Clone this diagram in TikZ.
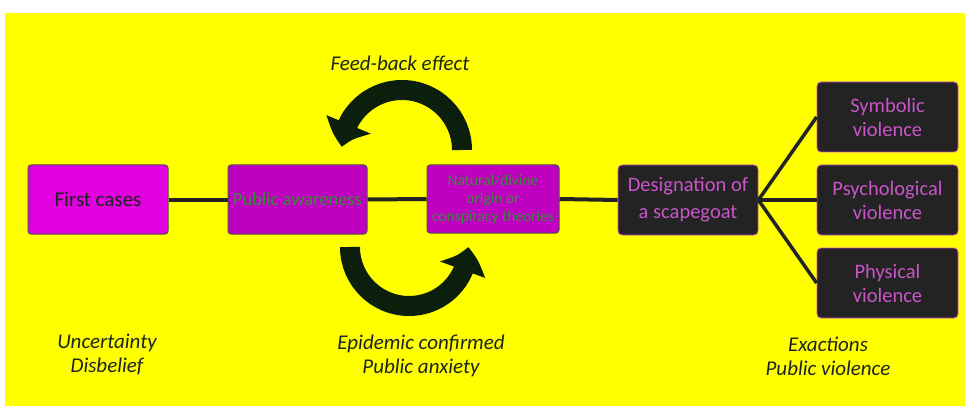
\documentclass[tikz,border=0pt]{standalone}
\usepackage{fontspec}
\setmainfont{Carlito}
\usetikzlibrary{arrows.meta,bending}
\definecolor{bgyellow}{HTML}{FFFF00}
\definecolor{magA}{HTML}{E000E0}
\definecolor{magB}{HTML}{C000C0}
\definecolor{darkbox}{HTML}{232323}
\definecolor{darktext}{HTML}{1C261C}
\definecolor{greentext}{HTML}{348E34}
\definecolor{pinktext}{HTML}{C955C9}
\definecolor{arrowcol}{HTML}{0C1E0C}
\tikzset{
  stagebox/.style={rectangle, rounded corners=3pt, draw=darkbox!80, line width=1pt, align=center, inner sep=2pt},
  firstbox/.style={stagebox, fill=magA, text=darktext, font=\fontsize{21}{24}\selectfont},
  midbox/.style={stagebox, fill=magB, text=greentext},
  darkstage/.style={rectangle, rounded corners=4pt, draw=magB!70, line width=0.8pt, fill=darkbox, text=pinktext, align=center, font=\fontsize{20.5}{27}\selectfont},
  violbox/.style={darkstage, minimum width=141pt, minimum height=70pt, font=\fontsize{20.5}{24}\selectfont},
  link/.style={draw=darkbox, line width=4pt},
  fan/.style={draw=darkbox, line width=3.5pt},
  bigarrow/.style={draw=arrowcol, line width=20pt, -{Triangle[width=46pt,length=24pt,bend]}},
  note/.style={text=darktext, align=center, font=\fontsize{21}{24}\selectfont\itshape}
}
\begin{document}
\begin{tikzpicture}[x=1pt,y=1pt]
\useasboundingbox (0,0) rectangle (965,-406);
\fill[white] (0,0) rectangle (965,-406);
\fill[bgyellow] (5,-13) rectangle (965,-406);

\node[firstbox, minimum width=140pt, minimum height=69pt] (first) at (98,-199.5) {First cases};
\node[midbox, minimum width=139pt, minimum height=69pt, font=\fontsize{18.5}{22}\selectfont] (public) at (297.5,-199.5) {Public awareness};
\node[midbox, minimum width=132pt, minimum height=68pt, font=\fontsize{15.5}{18}\selectfont] (theory) at (493,-199) {Natural/divine\\origin or\\conspiracy theories};
\node[darkstage, minimum width=140pt, minimum height=70pt] (scape) at (688,-200) {Designation of\\a scapegoat};
\node[violbox] (sym) at (887.5,-117) {Symbolic\\violence};
\node[violbox] (psy) at (887.5,-200) {Psychological\\violence};
\node[violbox] (phy) at (887.5,-283) {Physical\\violence};

\draw[link] (first.east) -- (public.west);
\draw[link] (public.east) -- (theory.west);
\draw[link] (theory.east) -- (scape.west);
\draw[fan] (scape.east) -- (sym.west);
\draw[fan] (scape.east) -- (psy.west);
\draw[fan] (scape.east) -- (phy.west);

\coordinate (topc) at (402,-150);
\coordinate (botc) at (409,-247);
\draw[bigarrow] ([xshift=60pt]topc) arc[start angle=0, end angle=177, radius=60pt];
\draw[bigarrow] ([xshift=-59pt]botc) arc[start angle=180, end angle=360, radius=59pt];

\node[note] (feed) at (400,-63) {Feed-back effect};
\node[note] (epi) at (421,-356) {Epidemic confirmed\\Public anxiety};
\node[note] (unc) at (107,-355) {Uncertainty\\Disbelief};
\node[note] (exa) at (828,-356) {Exactions\\Public violence};
\end{tikzpicture}
\end{document}
